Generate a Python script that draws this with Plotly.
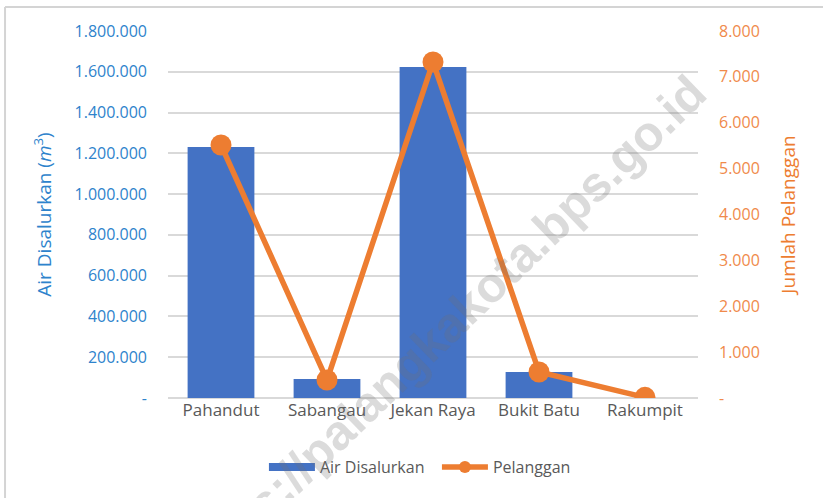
import plotly.graph_objects as go

categories = ["Pahandut", "Sabangau", "Jekan Raya", "Bukit Batu", "Rakumpit"]
air_disalurkan = [1231000, 93000, 1623000, 127500, 0]
pelanggan = [5515, 392, 7324, 567, 15]

left_tickvals = [0, 200000, 400000, 600000, 800000, 1000000, 1200000, 1400000, 1600000, 1800000]
left_ticktext = ["-", "200.000", "400.000", "600.000", "800.000", "1.000.000",
                 "1.200.000", "1.400.000", "1.600.000", "1.800.000"]
right_tickvals = [0, 1000, 2000, 3000, 4000, 5000, 6000, 7000, 8000]
right_ticktext = ["-", "1.000", "2.000", "3.000", "4.000", "5.000", "6.000", "7.000", "8.000"]

FONT = "Open Sans"
BLUE_TXT = "#2E83CC"
ORANGE_TXT = "#F08A4B"
BAR_BLUE = "#4472C4"
LINE_ORANGE = "#ED7D31"

fig = go.Figure()
fig.add_trace(go.Bar(
    x=categories, y=air_disalurkan, name="Air Disalurkan", showlegend=False,
    marker=dict(color=BAR_BLUE, line=dict(width=0)), width=0.63, yaxis="y",
))
fig.add_trace(go.Scatter(
    x=categories, y=pelanggan, name="Pelanggan", mode="lines+markers", showlegend=False,
    line=dict(color=LINE_ORANGE, width=5.5),
    marker=dict(color=LINE_ORANGE, size=21), yaxis="y2",
))
# legend swatches (Excel style)
fig.add_trace(go.Scatter(
    x=[None], y=[None], name="Air Disalurkan", mode="lines",
    line=dict(color=BAR_BLUE, width=8), yaxis="y", hoverinfo="skip",
))
fig.add_trace(go.Scatter(
    x=[None], y=[None], name="Pelanggan", mode="lines+markers",
    line=dict(color=LINE_ORANGE, width=5.5),
    marker=dict(color=LINE_ORANGE, size=12), yaxis="y2", hoverinfo="skip",
))

fig.update_layout(
    width=823, height=498,
    margin=dict(l=168, r=125, t=31, b=100, autoexpand=False),
    paper_bgcolor="white", plot_bgcolor="white",
    font=dict(family=FONT, color="#595959"),
    showlegend=True,
    legend=dict(orientation="h", x=0.181, xanchor="left", y=-0.188, yanchor="middle",
                font=dict(size=16, color="#595959", family=FONT),
                itemwidth=46, entrywidth=112, entrywidthmode="pixels",
                traceorder="normal"),
    xaxis=dict(
        type="category", showgrid=False, showline=False, ticks="",
        tickfont=dict(size=17, color="#595959", family=FONT),
        range=[-0.5, 4.5],
    ),
    yaxis=dict(
        range=[0, 1800000], tickvals=left_tickvals, ticktext=left_ticktext,
        showgrid=True, gridcolor="#D9D9D9", gridwidth=1.5,
        zeroline=True, zerolinecolor="#D9D9D9", zerolinewidth=1.5,
        showline=False, ticks="", ticklabelstandoff=20,
        tickfont=dict(size=16, color=BLUE_TXT, family=FONT),
        title=dict(text="Air Disalurkan (<i>m</i><sup>3</sup>)", standoff=17,
                   font=dict(size=19, color=BLUE_TXT, family=FONT)),
    ),
    yaxis2=dict(
        range=[0, 8000], tickvals=right_tickvals, ticktext=right_ticktext,
        overlaying="y", side="right", showgrid=False, zeroline=False,
        showline=False, ticks="", ticklabelstandoff=20,
        tickfont=dict(size=16, color=ORANGE_TXT, family=FONT),
        title=dict(text="Jumlah Pelanggan", standoff=22,
                   font=dict(size=19, color=LINE_ORANGE, family=FONT)),
    ),
    shapes=[
        dict(type="line", xref="paper", yref="paper",
             x0=-0.3075, x1=1.3, y0=1.0654, y1=1.0654,
             line=dict(color="#D4D4D4", width=2), layer="above"),
        dict(type="line", xref="paper", yref="paper",
             x0=-0.3075, x1=-0.3075, y0=-0.3, y1=1.0654,
             line=dict(color="#D4D4D4", width=2), layer="above"),
    ],
    annotations=[dict(
        text="https://palangkakota.bps.go.id", xref="paper", yref="paper",
        x=0.519, y=0.185, xanchor="center", yanchor="middle", textangle=-44,
        showarrow=False,
        font=dict(size=49, color="rgba(110,110,110,0.25)", family="Liberation Sans",
                  weight="bold"),
    )],
)

fig.write_html("out.html", config={"displayModeBar": False},
               post_script="document.body.style.margin='0';")
